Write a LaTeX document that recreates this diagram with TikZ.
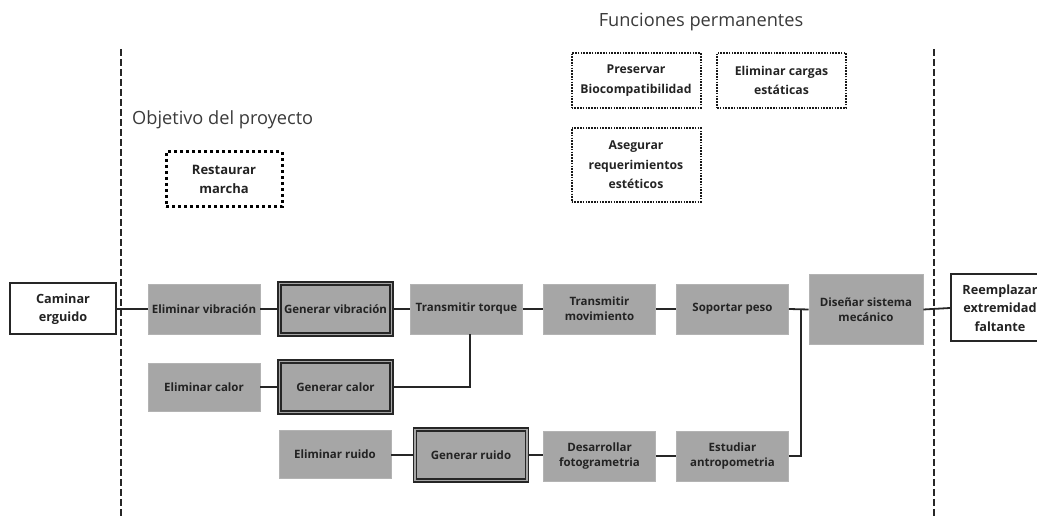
\documentclass[tikz,border=0pt]{standalone}
\usepackage{fontspec}
\setmainfont{Open Sans}
\definecolor{boxgray}{HTML}{A6A6A6}
\definecolor{inkdark}{HTML}{232323}
\definecolor{titlegray}{HTML}{3A3A3A}
\tikzset{
  lbl/.style={font=\bfseries\fontsize{11.5}{15}\selectfont, text=inkdark, align=center, inner sep=0pt},
  func/.style={lbl, fill=boxgray, draw=boxgray!85!white, line width=0.8pt,
               minimum width=112pt, minimum height=50pt},
  funcdouble/.style={lbl, fill=boxgray, draw=black!85, line width=1.5pt,
               double=boxgray, double distance=1.6pt,
               minimum width=112pt, minimum height=51pt},
  endbox/.style={lbl, font=\bfseries\fontsize{12.7}{18.5}\selectfont, fill=white,
               draw=black!85, line width=2pt},
  goalbox/.style={lbl, font=\bfseries\fontsize{13}{18.5}\selectfont, draw=black,
               line width=3pt, dash pattern=on 3pt off 3pt,
               minimum width=116pt, minimum height=55pt},
  permbox/.style={lbl, font=\bfseries\fontsize{12.2}{19.5}\selectfont, draw=black!90,
               line width=2pt, dash pattern=on 1.6pt off 1.2pt,
               minimum width=129pt},
  boundary/.style={draw=black!85, line width=2pt, dash pattern=on 7pt off 3pt},
  link/.style={draw=black!85, line width=1.8pt},
  heading/.style={font=\fontsize{18.2}{22}\selectfont, text=titlegray, inner sep=0pt}
}
\begin{document}
\begin{tikzpicture}[x=1pt,y=-1pt]
  \useasboundingbox (0,0) rectangle (1037,518);
  \clip (0,0) rectangle (1037,518);

  % scope boundaries
  \coordinate (lbtop) at (121,49);
  \coordinate (lbbot) at (121,518);
  \coordinate (rbtop) at (934,49);
  \coordinate (rbbot) at (934,518);
  \draw[boundary] (lbtop) -- (lbbot);
  \draw[boundary] (rbtop) -- (rbbot);

  % headings
  \node[heading, anchor=west] (objtitle) at (132,120) {Objetivo del proyecto};
  \node[heading] (permtitle) at (701,22) {Funciones permanentes};

  % goal and permanent functions
  \node[goalbox] (restaurar) at (224,179.5) {Restaurar\\marcha};
  \node[permbox, minimum height=55pt] (preservar) at (636,80.5) {Preservar\\Biocompatibilidad};
  \node[permbox, minimum height=55pt] (cargas) at (781.5,80.5) {Eliminar cargas\\estáticas};
  \node[permbox, minimum height=74pt] (asegurar) at (636,165) {Asegurar\\requerimientos\\estéticos};

  % input and output
  \node[endbox, minimum width=106pt, minimum height=51pt] (caminar) at (63,309) {Caminar\\erguido};
  \node[endbox, minimum width=98pt, minimum height=67pt, text width=94pt] (reemplazar) at (1000,308) {Reemplazar\\extremidad\\faltante};

  % first row
  \node[func] (elimvib) at (204,309) {Eliminar vibración};
  \node[funcdouble] (genvib) at (335.5,309) {Generar vibración};
  \node[func] (torque) at (466.5,309) {Transmitir torque};
  \node[func] (movim) at (599.5,309) {Transmitir\\movimiento};
  \node[func] (peso) at (732.5,309) {Soportar peso};
  \node[func, minimum width=114pt, minimum height=70pt] (disenar) at (866,309.5) {Diseñar sistema\\mecánico};

  % second row
  \node[func, minimum height=48pt] (elimcal) at (204,387) {Eliminar calor};
  \node[funcdouble] (gencal) at (335.5,387) {Generar calor};

  % third row
  \node[func, minimum height=48pt] (elimrui) at (335,454) {Eliminar ruido};
  \node[funcdouble] (genrui) at (471,455) {Generar ruido};
  \node[func] (fotog) at (599.5,456) {Desarrollar\\fotogrametria};
  \node[func] (antrop) at (732.5,456) {Estudiar\\antropometria};

  % connectors
  \coordinate (merge) at (801,309);
  \draw[link] (caminar.east) -- (elimvib.west);
  \draw[link] (elimvib.east) -- (genvib.west);
  \draw[link] (genvib.east) -- (torque.west);
  \draw[link] (torque.east) -- (movim.west);
  \draw[link] (movim.east) -- (peso.west);
  \draw[link] (peso.east) -- (disenar.west);
  \draw[link] (disenar.east) -- (reemplazar.west);
  \draw[link] (elimcal.east) -- (gencal.west);
  \draw[link] (gencal.east) -| ([xshift=3.5pt]torque.south);
  \draw[link] (elimrui.east |- genrui.west) -- (genrui.west);
  \draw[link] (genrui.east) -- (fotog.west |- genrui.east);
  \draw[link] (fotog.east) -- (antrop.west);
  \draw[link] (antrop.east) -| (merge);
\end{tikzpicture}
\end{document}
